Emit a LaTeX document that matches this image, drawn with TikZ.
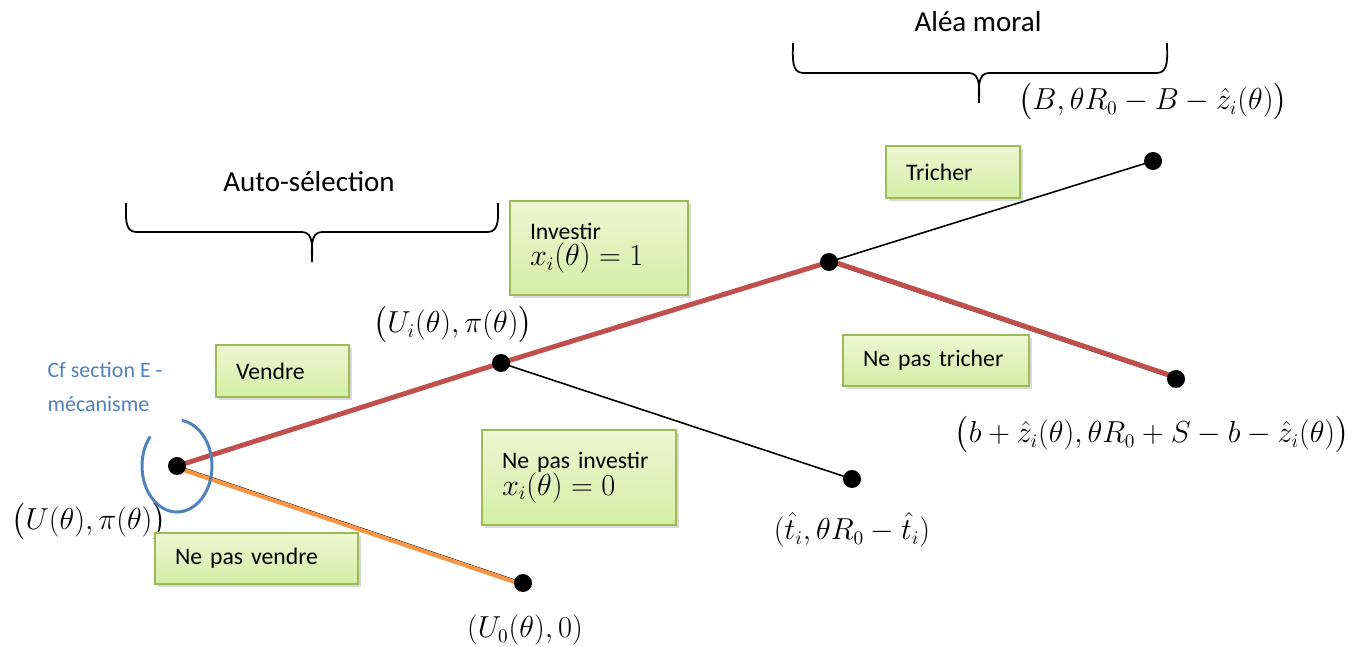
\documentclass[tikz,border=0pt]{standalone}
\usepackage{amsmath}
\usepackage{fontspec}
\setmainfont{Carlito}
\usepackage{xcolor}
\usepackage{tikz}
\usetikzlibrary{positioning, backgrounds, shadows}
\definecolor{arbred}{RGB}{192, 80, 77}
\definecolor{arborange}{RGB}{247, 150, 70}
\definecolor{arbblue}{RGB}{79, 129, 189}
\definecolor{arbgreen}{RGB}{155, 187, 89}
\definecolor{arbgreenA}{RGB}{236, 247, 210}
\definecolor{arbgreenB}{RGB}{212, 238, 165}

\begin{document}
\begin{tikzpicture}[x=0.02cm, y=0.02cm,
    dot/.style={circle, fill=black, inner sep=0pt, minimum size=0.36cm},
    choice/.style={draw=arbgreen, line width=1pt, top color=arbgreenA,
          bottom color=arbgreenB, inner xsep=0.4cm, align=left,
          drop shadow={opacity=0.3, shadow xshift=1.5pt, shadow yshift=-1.5pt},
          font=\fontsize{13.5}{17}\selectfont},
    payoff/.style={font=\fontsize{16}{19}\selectfont},
    phase/.style={font=\fontsize{16.5}{20}\selectfont},
    thinline/.style={line width=0.9pt},
    chosen/.style={arbred, line width=2.8pt},
    brace/.style={line width=1pt}]
    \useasboundingbox (0,0) rectangle (1355,646);

    % decision points and outcomes
    \node[dot] (root) at (177,180) {};
    \node[dot] (inv) at (501,283) {};
    \node[dot] (cheat) at (829,384) {};
    \node[dot] (endB) at (1153,485) {};
    \node[dot] (endb) at (1176,267) {};
    \node[dot] (endt) at (852,167) {};
    \node[dot] (endU) at (523,63) {};

    \begin{pgfonlayer}{background}
      \draw[thinline] (root.center) -- (endU.center);
      \draw[arborange, line width=2.4pt] ([yshift=-1pt]root.center) -- ([yshift=-1pt]endU.center);
      \draw[chosen] (root.center) -- (inv.center);
      \draw[chosen] (inv.center) -- (cheat.center);
      \draw[thinline] (inv.center) -- (endt.center);
      \draw[thinline] (cheat.center) -- (endB.center);
      \draw[thinline] (cheat.center) -- (endb.center);
      \draw[chosen] ([yshift=1pt]cheat.center) -- ([yshift=1pt]endb.center);
    \end{pgfonlayer}

    % mechanism mark
    \draw[arbblue, line width=1.7pt] (root.center) ++(140:35 and 46)
      arc[start angle=140, end angle=442, x radius=35, y radius=46];
    \node[arbblue, align=left, font=\fontsize{12.5}{19.3}\selectfont] (cfsec) at (105,259)
      {Cf section E -\\mécanisme};

    % payoffs
    \node[payoff] (payroot) at (89,124) {$\bigl(U(\theta),\pi(\theta)\bigr)$};
    \node[payoff] (payinv) at (453,321) {$\bigl(U_i(\theta),\pi(\theta)\bigr)$};
    \node[payoff] (payU) at (525,16) {$(U_0(\theta),0)$};
    \node[payoff] (payt) at (852,116) {$(\hat{t}_i,\theta R_0-\hat{t}_i)$};
    \node[payoff] (payB) at (1153,544) {$\bigl(B,\theta R_0-B-\hat{z}_i(\theta)\bigr)$};
    \node[payoff] (payb) at (1152,211)
      {$\bigl(b+\hat{z}_i(\theta),\theta R_0+S-b-\hat{z}_i(\theta)\bigr)$};

    % actions
    \node[choice, text width=1.86cm, minimum height=1.04cm] (sell) at (282.5,275) {Vendre};
    \node[choice, text width=3.26cm, minimum height=1.02cm] (nosell) at (256.5,87.5) {Ne pas vendre};
    \node[choice, text width=2.76cm, minimum height=1.88cm] (invest) at (599,398)
      {Investir\\[-2pt]{\fontsize{16}{19}\selectfont $x_i(\theta)=1$}};
    \node[choice, text width=3.08cm, minimum height=1.9cm] (noinvest) at (579,168.5)
      {Ne pas investir\\[-2pt]{\fontsize{16}{19}\selectfont $x_i(\theta)=0$}};
    \node[choice, text width=1.88cm, minimum height=1.04cm] (trich) at (953,474) {Tricher};
    \node[choice, text width=2.92cm, minimum height=1.02cm] (notrich) at (936,285.5) {Ne pas tricher};

    % phases
    \node[phase] (autosel) at (309,464) {Auto-sélection};
    \draw[brace] (126,443) to[out=-90,in=180] (136,414) -- (302,414)
      to[out=0,in=90] (312,384) to[out=90,in=180] (322,414) -- (488,414)
      to[out=0,in=-90] (498,443);
    \node[phase] (alea) at (978,624) {Aléa moral};
    \draw[brace] (793,603) to[out=-90,in=180] (803,573) -- (969,573)
      to[out=0,in=90] (979,543) to[out=90,in=180] (989,573) -- (1157,573)
      to[out=0,in=-90] (1167,603);
  \end{tikzpicture}
\end{document}
